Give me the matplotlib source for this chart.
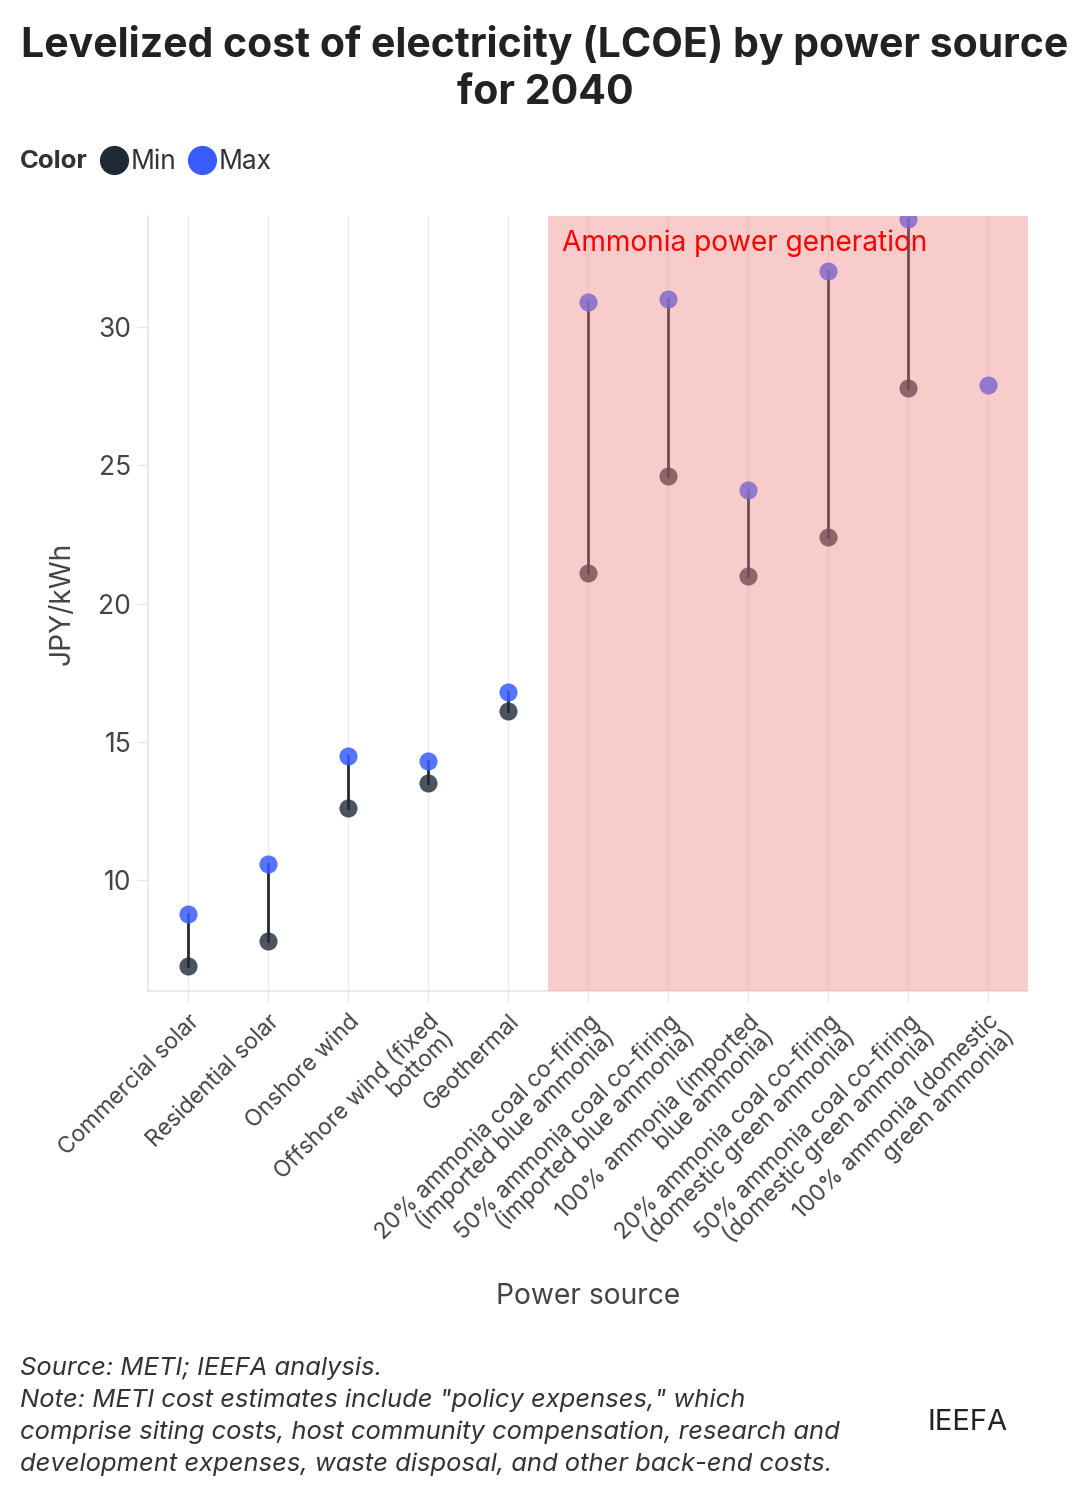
import numpy as np
import matplotlib
matplotlib.use("Agg")
from matplotlib import pyplot as plt
from matplotlib.lines import Line2D

plt.rcParams['font.family'] = ['Inter', 'DejaVu Sans']

# datos
fuentes = ["Commercial solar", "Residential solar", "Onshore wind",
           "Offshore wind (fixed\nbottom)", "Geothermal",
           "20% ammonia coal co-firing\n(imported blue ammonia)",
           "50% ammonia coal co-firing\n(imported blue ammonia)",
           "100% ammonia (imported\nblue ammonia)",
           "20% ammonia coal co-firing\n(domestic green ammonia)",
           "50% ammonia coal co-firing\n(domestic green ammonia)",
           "100% ammonia (domestic\ngreen ammonia)"]
minimo = [6.9, 7.8, 12.6, 13.5, 16.1, 21.1, 24.6, 21.0, 22.4, 27.8, np.nan]
maximo = [8.8, 10.6, 14.5, 14.3, 16.8, 30.9, 31.0, 24.1, 32.0, 33.9, 27.9]
yticks = [10, 15, 20, 25, 30]

c_min = '#1f2a36'
c_max = '#3a5cff'
gris = '#444444'

fig = plt.figure(figsize=(10.9, 14.99), dpi=100)
ax = fig.add_axes([148/1090, 1-991/1499, 880/1090, 775/1499])

x = np.arange(len(fuentes))
for i in x:
    if not np.isnan(minimo[i]):
        ax.plot([i, i], [minimo[i], maximo[i]], color=c_min, lw=2, zorder=2)
ax.scatter(x, minimo, s=170, color=c_min, alpha=0.8, zorder=3, linewidths=0)
ax.scatter(x, maximo, s=170, color=c_max, alpha=0.85, zorder=3, linewidths=0)

# zona amoniaco
ax.axvspan(4.5, 10.5, color='lightcoral', alpha=0.4, lw=0, zorder=4)
ax.text(4.68, 33.0, "Ammonia power generation", color='red', fontsize=20.2,
        va='center', ha='left', zorder=5)

ax.set_xlim(-0.5, 10.5)
ax.set_ylim(6, 34)
ax.set_xticks(x)
ax.set_xticklabels(fuentes, rotation=45, ha='right', rotation_mode='anchor',
                   fontsize=16.5, color=gris, linespacing=0.95)
ax.set_yticks(yticks)
ax.set_yticklabels([str(v) for v in yticks], fontsize=19, color=gris)
ax.tick_params(axis='both', length=8, color='#e6e6e6', width=1)
ax.tick_params(axis='x', pad=6)
ax.tick_params(axis='y', pad=4)
ax.grid(axis='x', color='#ebebeb', lw=1, zorder=0)
ax.set_axisbelow(True)
for s in ['top', 'right']:
    ax.spines[s].set_visible(False)
for s in ['left', 'bottom']:
    ax.spines[s].set_color('#e6e6e6')
    ax.spines[s].set_linewidth(1.2)

fig.text(588/1090, 1-1297/1499, "Power source", ha='center', va='center',
         fontsize=20.3, color=gris)
fig.text(62/1090, 1-603/1499, "JPY/kWh", ha='center', va='center',
         rotation=90, fontsize=20.3, color=gris)

# titulo
fig.text(545/1090, 1-45/1499, "Levelized cost of electricity (LCOE) by power source",
         ha='center', va='center', fontsize=29.5, fontweight='bold', color='#222222')
fig.text(545/1090, 1-93/1499, "for 2040", ha='center', va='center',
         fontsize=29.5, fontweight='bold', color='#222222')

# leyenda
fig.text(20/1090, 1-161/1499, "Color", ha='left', va='center', fontsize=18.5,
         fontweight='bold', color='#333333')
h1 = Line2D([], [], marker='o', ls='', color=c_min, markersize=20)
h2 = Line2D([], [], marker='o', ls='', color=c_max, markersize=20)
fig.legend([h1, h2], ["Min", "Max"], loc='center left',
           bbox_to_anchor=(73/1090, 1-162/1499), ncol=2, frameon=False,
           handletextpad=0.0, columnspacing=0.3, handlelength=1.3,
           prop={'size': 19}, labelcolor='#333333')

# notas
nota = ('Source: METI; IEEFA analysis.\n'
        'Note: METI cost estimates include "policy expenses," which\n'
        'comprise siting costs, host community compensation, research and\n'
        'development expenses, waste disposal, and other back-end costs.')
fig.text(20/1090, 1-1357/1499, nota, ha='left', va='top', fontsize=18.4,
         style='italic', color='#333333', linespacing=1.45)
fig.text(968/1090, 1-1422/1499, "IEEFA", ha='center', va='center',
         fontsize=21, color='#222222')

plt.savefig('out.png')
plt.close()
